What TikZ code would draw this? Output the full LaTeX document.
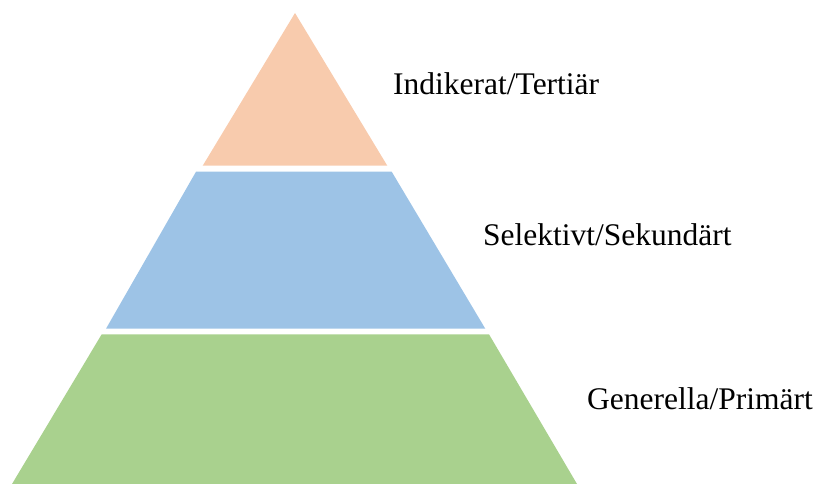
\documentclass[tikz,border=0pt]{standalone}
\usepackage{fontspec}
\setmainfont{Liberation Serif}
\definecolor{peach}{HTML}{F8CBAD}
\definecolor{skyblue}{HTML}{9DC3E6}
\definecolor{leafgreen}{HTML}{A9D18E}
\begin{document}
\begin{tikzpicture}[x=1pt,y=-1pt,
  lbl/.style={anchor=base west,inner sep=0pt,font=\fontsize{31.5}{36}\selectfont}]
\useasboundingbox (0,0) rectangle (816,484);
\fill[peach] (295,13) -- (387.3,165.7) -- (202.7,165.7) -- cycle;
\fill[skyblue] (196,171.7) -- (391.7,171.7) -- (485.3,328.7) -- (106,328.7) -- cycle;
\fill[leafgreen] (101.7,334.3) -- (489,334.3) -- (577,484) -- (12,484) -- cycle;
\node[lbl] (tert) at (393,95) {Indikerat/Tertiär};
\node[lbl] (sek) at (483,245) {Selektivt/Sekundärt};
\node[lbl] (prim) at (587,409) {Generella/Primärt};
\end{tikzpicture}
\end{document}
